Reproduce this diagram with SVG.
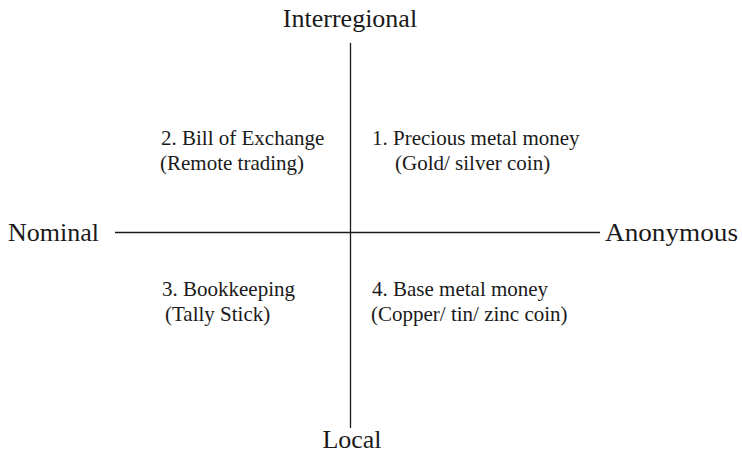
<svg xmlns="http://www.w3.org/2000/svg" width="742" height="458" viewBox="0 0 742 458">
<style>
.ax{font-family:"Liberation Serif","Times New Roman",serif;font-size:26px;fill:#1a1a1a}
.lb{font-family:"Liberation Serif","Times New Roman",serif;font-size:21px;fill:#1a1a1a}
.ln{stroke:#1a1a1a;stroke-width:1.3;fill:none}
</style>
<rect width="742" height="458" fill="#fff"/>
<g id="connectors">
<line class="ln" x1="350.5" y1="43" x2="350.5" y2="428"/>
<line class="ln" x1="115" y1="232.5" x2="600" y2="232.5"/>
</g>
<g id="interregional"><text class="ax" x="350" y="27" text-anchor="middle">Interregional</text></g>
<g id="local"><text class="ax" x="352" y="448" text-anchor="middle">Local</text></g>
<g id="nominal"><text class="ax" x="8" y="241">Nominal</text></g>
<g id="anonymous"><text class="ax" x="605" y="241" textLength="133" lengthAdjust="spacingAndGlyphs">Anonymous</text></g>
<g id="q2"><text class="lb" x="161" y="145">2. Bill of Exchange</text><text class="lb" x="160" y="170">(Remote trading)</text></g>
<g id="q1"><text class="lb" x="372" y="145">1. Precious metal money</text><text class="lb" x="395" y="170">(Gold/ silver coin)</text></g>
<g id="q3"><text class="lb" x="162" y="296">3. Bookkeeping</text><text class="lb" x="165" y="321">(Tally Stick)</text></g>
<g id="q4"><text class="lb" x="372" y="296">4. Base metal money</text><text class="lb" x="371" y="321">(Copper/ tin/ zinc coin)</text></g>
</svg>
